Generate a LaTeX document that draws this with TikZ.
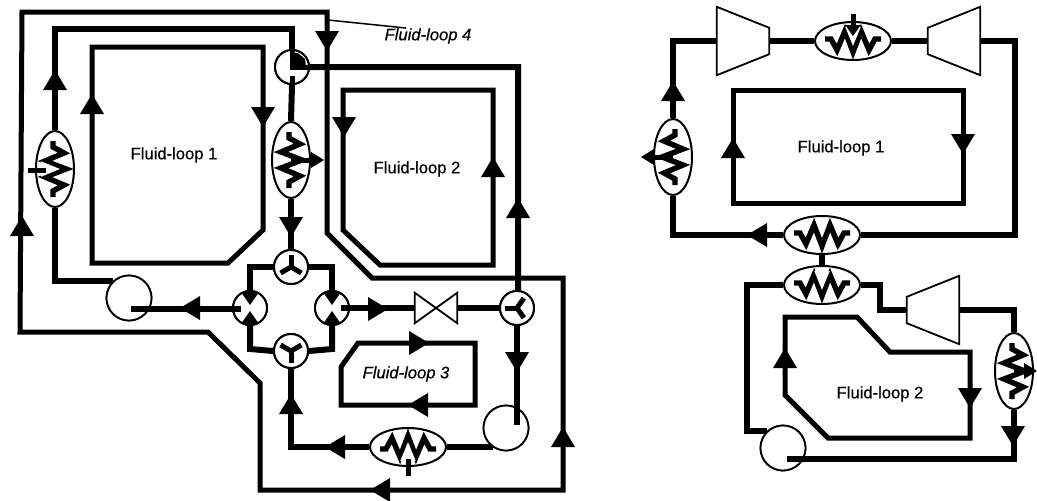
\documentclass[tikz,border=0pt]{standalone}
\usepackage{fontspec}
\setmainfont{Liberation Sans}[FakeBold=0.5]
\usetikzlibrary{shapes.geometric}
\tikzset{
  loopline/.style={line width=5pt,line join=miter},
  pipeline/.style={line width=6pt,line join=miter},
  stubline/.style={line width=5pt},
  outline/.style={line width=1.8pt,line join=miter},
  armline/.style={line width=5pt},
  valve/.style={circle,draw,line width=2pt,fill=white,inner sep=0pt,minimum size=34pt},
  pump/.style={circle,draw,line width=1.8pt,fill=white,inner sep=0pt,minimum size=45pt},
  hxh/.style={ellipse,draw,line width=2pt,fill=white,inner sep=0pt,minimum width=76pt,minimum height=38pt},
  hxv/.style={hxh,minimum width=38pt,minimum height=76pt},
  turbo/.style={inner sep=0pt,minimum width=52pt,minimum height=68pt},
  tag/.style={inner sep=0pt,font=\fontsize{16.6}{20}\selectfont},
  coil/.pic={
    \draw[line width=5.4pt,line join=miter,miter limit=4] (-28,-2) -- (-22,-2) -- (-16,9) -- (-8,-10) -- (0,11) -- (8,-10) -- (16,9) -- (22,-2) -- (28,-2);
  },
  coilgap/.pic={
    \draw[white,line width=1.4pt] (-7,-14) -- (0,3) -- (7,-14);
  }
}
\newcommand{\flow}[2]{\fill[shift={#1},rotate=#2] (10,0) -- (-10,12) -- (-10,-12) -- cycle;}
\newcommand{\tip}[2]{\fill[shift={#1},rotate=#2] (7,0) -- (-6,8) -- (-6,-8) -- cycle;}
\newcommand{\arms}[2]{\foreach \a in {#2} \draw[armline] (#1.center) -- ++(\a:12pt);}
\newcommand{\wedges}[1]{\foreach \a in {90,270} \fill[shift={(#1.center)},rotate=\a] (3,0) -- (16,9) -- (16,-9) -- cycle;}
\newcommand{\turbine}[3]{\draw[outline,fill=white] (#1.north #2) -- ([yshift=-21pt]#1.north #3) -- ([yshift=21pt]#1.south #3) -- (#1.south #2) -- cycle;}
\begin{document}
\begin{tikzpicture}[x=1pt,y=-1pt]
\useasboundingbox (0,0) rectangle (1037,501);

% left diagram: components
\node[hxv] (hxA) at (55,169) {};
\node[hxv] (hxB) at (291,160) {};
\node[hxh] (hxC) at (408,447) {};
\node[valve] (vTop) at (292,67) {};
\node[valve] (vN) at (291,267) {};
\node[valve] (vW) at (250,308) {};
\node[valve] (vE) at (332,308) {};
\node[valve] (vS) at (291,351) {};
\node[valve] (vR) at (517,308) {};
\node[pump] (pumpA) at (129,298) {};
\node[pump] (pumpB) at (506,428) {};
\node[inner sep=0pt,minimum width=42pt,minimum height=30pt] (choke) at (436,308) {};
\coordinate (pumpAin) at (131,309);
\coordinate (pumpBin) at (517,425);
\coordinate (tap) at (328,20);

\node[tag] (labA) at (174,155) {Fluid-loop 1};
\node[tag] (labB) at (417,169) {Fluid-loop 2};
\node[tag,font=\fontsize{16.6}{20}\selectfont\itshape] (labC) at (406,374) {Fluid-loop 3};
\node[tag,font=\fontsize{16.6}{20}\selectfont\itshape] (labD) at (428,36) {Fluid-loop 4};

% fluid-loops 1 to 4
\draw[loopline] (92,47) -- (263,47) -- (263,230) -- (228,263) -- (92,263) -- cycle;
\draw[loopline] (343,90) -- (493,90) -- (493,265) -- (380,265) -- (343,230) -- cycle;
\draw[loopline] (358,343) -- (475,343) -- (475,405) -- (341,405) -- (341,367) -- cycle;
\draw[loopline] (22,12) -- (327,12) -- (327,233) -- (372,278) -- (563,278) -- (563,490) -- (260,490) -- (260,383) -- (208,332) -- (20,332) -- cycle;

% left diagram: connectors
\draw[pipeline] (vTop.north) -- (292,29) -- (55,29) -- (hxA.north);
\draw[pipeline] (hxA.south) |- (pumpA.132);
\draw[pipeline] (vTop.east) -- (518,67) -- (518,291) -- (vR.north);
\draw[pipeline] (vTop.south) -- (hxB.north);
\draw[pipeline] (hxB.south) -- (vN.north);
\draw[pipeline] (vN.west) -- (250,267) -- (vW.north);
\draw[pipeline] (vN.east) -- (332,267) -- (vE.north);
\draw[pipeline] (vW.south) -- (250,349) -- (vS.west);
\draw[pipeline] (vE.south) -- (332,349) -- (vS.east);
\draw[pipeline] (vE.east) -- (choke.west);
\draw[pipeline] (choke.east) -- (vR.west);
\draw[pipeline] (hxC.east) -- (hxC.east -| pumpB.236);
\draw[pipeline] (hxC.west) -- (291,447) -- (vS.south);
\draw[line width=1.5pt] (tap) -- (labD.160);

% circles on top of the pipes, then the pipes that run into them
\node[valve] at (vTop) {};
\node[valve] at (vN) {};
\node[valve] at (vW) {};
\node[valve] at (vE) {};
\node[valve] at (vS) {};
\node[valve] at (vR) {};
\node[pump] at (pumpA) {};
\node[pump] at (pumpB) {};
\draw[pipeline] (pumpAin) -- (241,309);
\draw[pipeline] (341,308) -- (vE.east);
\draw[pipeline] (vR.south) -- (pumpBin);
\draw[outline,fill=white] (choke.north west) -- (choke.south east) -- (choke.north east) -- (choke.south west) -- cycle;

% valve insides
\arms{vN}{90,210,330}
\arms{vS}{270,150,30}
\arms{vR}{180,55,-55}
\wedges{vW}
\wedges{vE}
\draw[armline] (vTop.north) -- (vTop.center) -- (vTop.east);
\fill[shift={(vTop.center)}] (0,0) -- (0,-14) -- (6,-14) -- (13,-8) -- (14,0) -- cycle;
\draw[white,line width=2.6pt] (4,-5) -- (15,-15);
\draw[armline] (vTop.south) -- ++(0,-9);

% coils
\draw[stubline] (28,170) -- (46,170);
\pic[rotate=90] at (hxA) {coil};
\pic[rotate=90] at (hxA) {coilgap};
\pic[rotate=90] at (hxB) {coil};
\draw[stubline] (hxB.center) -- (314,160);
\tip{(317,160)}{0}
\draw[stubline] (408,459) -- (408,476);
\pic[rotate=180] at (hxC) {coil};
\pic[rotate=180] at (hxC) {coilgap};

% left diagram: arrows
\flow{(22,226)}{90}
\flow{(327,41)}{270}
\flow{(563,437)}{90}
\flow{(380,490)}{180}
\flow{(92,104)}{90}
\flow{(263,117)}{270}
\flow{(55,80)}{90}
\flow{(291,227)}{270}
\flow{(190,308)}{180}
\flow{(518,208)}{90}
\flow{(344,127)}{270}
\flow{(493,167)}{90}
\flow{(378,309)}{0}
\flow{(517,362)}{270}
\flow{(335,447)}{180}
\flow{(291,404)}{90}
\flow{(419,343)}{0}
\flow{(418,405)}{180}

% right diagram: components
\node[hxh] (hxD) at (853,41) {};
\node[hxv] (hxE) at (673,157) {};
\node[hxh] (hxF) at (822,235) {};
\node[hxh] (hxG) at (822,285) {};
\node[hxv] (hxH) at (1014,371) {};
\node[turbo] (cpA) at (743,41) {};
\node[turbo] (cpB) at (954,41) {};
\node[turbo] (cpC) at (933,310) {};
\node[pump] (pumpC) at (783,448) {};
\coordinate (pumpCin) at (787,459);

\node[tag] (labE) at (841,148) {Fluid-loop 1};
\node[tag] (labF) at (880,394) {Fluid-loop 2};

\draw[loopline] (733,90) -- (963,90) -- (963,203) -- (733,203) -- cycle;
\draw[loopline] (785,317) -- (857,317) -- (890,352) -- (970,352) -- (970,438) -- (828,438) -- (785,395) -- cycle;

\draw[pipeline] (hxE.north) -- (673,41) -- (cpA.west);
\draw[pipeline] (cpA.east) -- (hxD.west);
\draw[pipeline] (hxD.east) -- (cpB.west);
\draw[pipeline] (cpB.east) -- (1015,41) -- (1015,235) -- (hxF.east);
\draw[pipeline] (hxF.west) -- (673,235) -- (hxE.south);
\draw[pipeline] (hxF.south) -- (hxG.north);
\draw[pipeline] (hxG.west) -- (747,285) |- (pumpC.133);
\draw[pipeline] (hxH.north) -- (1014,310) -- (cpC.east);
\draw[pipeline] (cpC.west) -- (880,310) -- (880,285) -- (hxG.east);
\node[pump] at (pumpC) {};
\draw[pipeline] (pumpCin) -- (1014,459) -- (hxH.south);
\turbine{cpA}{west}{east}
\turbine{cpB}{east}{west}
\turbine{cpC}{east}{west}

\draw[stubline] (853,14) -- (853,26);
\pic at (hxD) {coil};
\fill (845,25) -- (861,25) -- (853,36) -- cycle;
\pic at (hxD) {coilgap};
\draw[stubline] (hxE.center) -- (650,157);
\pic[rotate=-90] at (hxE) {coil};
\tip{(648,157)}{180}
\pic at (hxF) {coil};
\pic at (hxG) {coil};
\pic at (hxG) {coilgap};
\pic[rotate=90] at (hxH) {coil};
\draw[stubline] (hxH.center) -- (1030,371);
\tip{(1030,371)}{0}

\flow{(673,91)}{90}
\flow{(757,235)}{180}
\flow{(733,148)}{90}
\flow{(963,144)}{270}
\flow{(785,358)}{90}
\flow{(970,398)}{270}
\flow{(1013,436)}{270}
\end{tikzpicture}
\end{document}
